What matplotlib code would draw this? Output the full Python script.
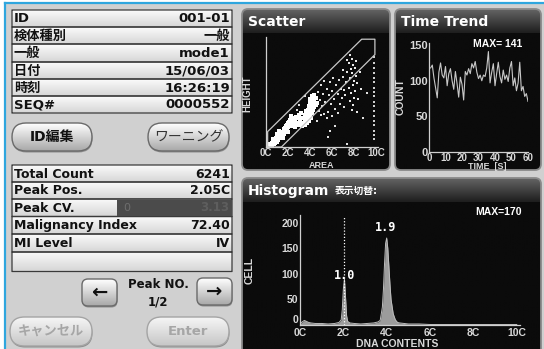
import numpy as np
import matplotlib
matplotlib.use("Agg")
import matplotlib.pyplot as plt
from matplotlib.patches import FancyBboxPatch, Rectangle
from matplotlib.colors import LinearSegmentedColormap

plt.rcParams['font.family'] = ['DejaVu Sans', 'Noto Sans CJK JP']

W, H = 544, 349

# sample info rows
info_labels = ["ID", "検体種別", "一般", "日付", "時刻", "SEQ#"]
info_values = ["001-01", "一般", "mode1", "15/06/03", "16:26:19", "0000552"]

# result rows
result_labels = ["Total Count", "Peak Pos.", "Peak CV.", "Malignancy Index", "MI Level", ""]
result_values = ["6241", "2.05C", "", "72.40", "IV", ""]

# scatter: AREA (C) vs HEIGHT
scat2c_area = [0.2, 0.3, 0.35, 0.4, 0.5, 0.5, 0.6, 0.7, 0.7, 0.8, 0.8, 0.9, 0.9, 1.0, 1.0,
               1.1, 1.1, 1.2, 1.2, 1.3, 1.3, 1.4, 1.4, 1.5, 1.5, 1.6, 1.6, 1.7, 1.7, 1.8,
               1.8, 1.9, 1.9, 2.0, 2.0, 2.1, 2.1, 2.2, 2.2, 2.3, 2.4, 2.4, 2.5, 2.5, 2.6,
               2.7, 2.8, 2.9, 3.0, 3.1, 3.2, 0.6, 1.0, 1.5, 2.0, 2.3, 2.6, 3.3, 3.0, 1.2]
scat2c_height = [0.1, 0.2, 0.1, 0.3, 0.2, 0.4, 0.3, 0.5, 0.3, 0.6, 0.4, 0.5, 0.8, 0.7, 0.5,
                 0.9, 0.6, 0.8, 1.1, 0.9, 1.2, 1.0, 1.3, 1.1, 1.4, 1.2, 1.6, 1.4, 1.7, 1.5,
                 1.9, 1.6, 2.0, 1.8, 2.2, 1.9, 2.3, 2.0, 2.5, 2.2, 2.4, 1.9, 2.6, 2.1, 2.3,
                 2.7, 2.2, 2.6, 2.9, 2.4, 3.1, 0.7, 1.2, 0.8, 1.4, 2.8, 1.8, 2.6, 2.0, 1.5]
scat4c_area = [3.3, 3.4, 3.5, 3.5, 3.6, 3.6, 3.7, 3.7, 3.8, 3.8, 3.8, 3.9, 3.9, 3.9, 4.0,
               4.0, 4.0, 4.1, 4.1, 4.1, 4.2, 4.2, 4.2, 4.3, 4.3, 4.4, 4.4, 4.5, 4.5, 3.7,
               3.9, 4.0, 4.2, 4.3, 4.6, 3.6, 4.0, 4.1, 3.5, 4.4]
scat4c_height = [1.9, 2.2, 2.0, 2.5, 2.3, 2.8, 2.6, 3.1, 2.9, 3.4, 2.5, 3.2, 3.7, 2.8, 3.5,
                 4.0, 3.0, 3.8, 4.3, 3.3, 4.1, 4.6, 3.6, 4.4, 3.9, 4.7, 4.2, 4.5, 3.8, 2.2,
                 2.4, 2.7, 3.1, 3.4, 4.0, 3.3, 4.4, 2.6, 2.9, 3.6]
scat_mid_area = [4.7, 4.9, 5.0, 5.1, 5.2, 5.3, 5.4, 5.5, 5.6, 5.7, 5.8, 5.9, 6.0, 6.1, 6.2,
                 6.3, 6.4, 6.5, 6.6, 6.7, 6.8, 6.9, 7.0, 5.0, 5.5, 6.0, 4.8, 5.3, 6.5, 7.1,
                 5.8, 4.6, 3.0, 3.5, 2.8, 5.6, 7.4, 6.3, 8.8, 9.2]
scat_mid_height = [5.0, 4.3, 5.6, 3.7, 4.8, 6.0, 4.1, 5.3, 3.2, 4.7, 5.9, 3.9, 5.1, 6.3, 4.4,
                   3.5, 5.6, 4.8, 6.1, 3.9, 5.3, 4.5, 6.4, 2.9, 2.6, 2.8, 3.3, 3.0, 3.1, 3.6,
                   1.5, 2.4, 3.8, 4.6, 3.4, 0.9, 0.3, 1.9, 2.6, 4.9]
scat8c_area = [7.6, 7.8, 7.5, 7.9, 7.7, 8.1, 7.4, 7.8, 8.2, 7.6, 8.0, 7.3, 7.9, 8.3, 7.5,
               8.1, 7.7, 7.2, 8.0, 7.6, 8.4, 7.9, 7.4, 8.2, 7.0, 8.5, 7.1, 8.6, 7.8, 8.3]
scat8c_height = [8.4, 8.0, 7.6, 7.5, 7.1, 7.2, 6.8, 6.7, 6.5, 6.3, 6.0, 5.9, 5.6, 5.8, 5.4,
                 5.1, 4.9, 4.7, 4.5, 4.2, 4.4, 3.8, 7.9, 7.8, 7.0, 6.8, 5.2, 5.3, 3.4, 3.2]
scat_edge_area = [9.85, 9.85, 9.85, 9.85, 9.85, 9.85, 9.85, 9.85, 9.85, 9.85, 9.85, 9.85,
                  9.85, 9.85, 9.85, 9.85, 9.85, 9.85]
scat_edge_height = [0.7, 1.1, 1.5, 2.0, 2.4, 2.8, 3.3, 3.7, 4.1, 4.6, 5.0, 5.4, 5.9, 6.3,
                    6.7, 7.2, 7.6, 8.2]
gate_area = [0.15, 0.15, 8.7, 9.9, 9.9, 1.4, 0.15]
gate_height = [0.0, 1.4, 9.8, 9.8, 8.4, 0.0, 0.0]

# time trend (counts per second)
trend_count = [118, 122, 104, 90, 76, 112, 125, 108, 104, 120,
               93, 110, 117, 100, 88, 113, 96, 77, 105, 95,
               73, 113, 108, 117, 110, 124, 118, 127, 112, 103,
               108, 100, 108, 106, 118, 141, 97, 112, 124, 93,
               110, 126, 106, 97, 115, 102, 108, 99, 118, 127,
               93, 104, 86, 97, 126, 86, 92, 78, 82, 71]
trend_time = np.arange(1, len(trend_count) + 1)

# DNA histogram outline
hist_x = [0.0, 0.1, 0.2, 0.3, 0.4, 0.5, 0.7, 1.0, 1.3, 1.6, 1.8, 1.9, 1.95, 2.0, 2.05,
          2.1, 2.15, 2.2, 2.3, 2.5, 2.8, 3.1, 3.4, 3.6, 3.7, 3.8, 3.85, 3.9, 3.95, 4.0,
          4.05, 4.1, 4.15, 4.2, 4.3, 4.4, 4.5, 4.6, 4.8, 5.0, 5.5, 6.0, 7.0, 8.0, 9.0, 10.0]
hist_y = [2, 6, 9, 7, 5, 4, 3, 3, 2, 3, 5, 10, 30, 70, 90,
          55, 18, 7, 4, 3, 2, 3, 4, 6, 9, 35, 70, 120, 160, 170,
          150, 115, 80, 50, 22, 10, 5, 4, 3, 2, 2, 1, 1, 1, 1, 1]
peak_pos = [2.05, 3.95]
peak_index = ["1.0", "1.9"]

fig = plt.figure(figsize=(W / 100, H / 100), dpi=100)
fig.patch.set_facecolor('white')
ax0 = fig.add_axes([0, 0, 1, 1])
ax0.axis('off')


def grad_fill(x, y, w, h, c0, c1, clip, z):
    cmap = LinearSegmentedColormap.from_list('g', [c0, c1])
    im = ax0.imshow(np.linspace(0, 1, 64).reshape(-1, 1), cmap=cmap,
                    extent=(x, x + w, y + h, y), aspect='auto',
                    interpolation='bilinear', zorder=z)
    im.set_clip_path(clip)


def rbox(x, y, w, h, r, c0, c1, ec, lw=1.0, z=2):
    p = FancyBboxPatch((x, y), w, h, boxstyle=f"round,pad=0,rounding_size={r}",
                       fc='none', ec=ec, lw=lw, zorder=z + 0.5)
    ax0.add_patch(p)
    grad_fill(x, y, w, h, c0, c1, p, z)
    return p


def button(x, y, w, h, text, r=None, enabled=True, size=10, weight='bold', tcolor='#111111'):
    r = h / 2 if r is None else r
    ax0.add_patch(FancyBboxPatch((x + 0.5, y + 1.5), w, h, boxstyle=f"round,pad=0,rounding_size={r}",
                                 fc='#8e8e8e', ec='none', zorder=1.5))
    if enabled:
        rbox(x, y, w, h, r, '#ffffff', '#a8a8a8', '#6a6a6a', 1.0, z=2)
    else:
        rbox(x, y, w, h, r, '#f6f6f6', '#c6c6c6', '#a4a4a4', 1.0, z=2)
        tcolor = '#a6a6a6'
    ax0.text(x + w / 2, y + h / 2, text, ha='center', va='center', fontsize=size,
             fontweight=weight, color=tcolor, zorder=10)


# page background and blue frame
ax0.add_patch(Rectangle((6, 4), W - 6, H - 4, fc='#d0d0d0', ec='none', zorder=0.5))
ax0.plot([5, 5], [3, H], color='#2fa6de', lw=1.6, zorder=1)
ax0.plot([5, W], [3, 3], color='#2fa6de', lw=1.6, zorder=1)

# info rows
info_edges = [10, 27, 44, 62, 79, 96, 113]
for i, (lab, val) in enumerate(zip(info_labels, info_values)):
    y0, y1 = info_edges[i], info_edges[i + 1]
    rbox(12, y0, 220, y1 - y0, 0.01, '#fbfbfb', '#d6d6d6', '#3a3a3a', 0.9, z=2)
    yc = (y0 + y1) / 2 + 0.5
    ax0.text(14, yc, lab, ha='left', va='center', fontsize=9.5, fontweight='bold', color='#111111', zorder=10)
    ax0.text(230, yc, val, ha='right', va='center', fontsize=9.5, fontweight='bold', color='#111111', zorder=10)

button(12, 123, 80, 28, "ID編集", size=10)
button(148, 123, 81, 28, "ワーニング", size=10, weight='normal', tcolor='#333333')

# result rows
result_edges = [165, 182, 199, 216.5, 234, 252, 271.5]
for i, (lab, val) in enumerate(zip(result_labels, result_values)):
    y0, y1 = result_edges[i], result_edges[i + 1]
    rbox(12, y0, 220, y1 - y0, 0.01, '#fbfbfb', '#d6d6d6', '#3a3a3a', 0.9, z=2)
    yc = (y0 + y1) / 2 + 0.5
    ax0.text(14, yc, lab, ha='left', va='center', fontsize=9, fontweight='bold', color='#111111', zorder=10)
    ax0.text(230, yc, val, ha='right', va='center', fontsize=9, fontweight='bold', color='#111111', zorder=10)

# Peak CV value bar (dimmed)
cv_y0, cv_y1 = result_edges[2], result_edges[3]
ax0.add_patch(Rectangle((117, cv_y0 + 1), 115, cv_y1 - cv_y0 - 2, fc='#4b4b4b', ec='none', zorder=3))
ax0.text(127, (cv_y0 + cv_y1) / 2, "0", ha='center', va='center', fontsize=8, color='#6e6e6e', zorder=10)
ax0.text(229, (cv_y0 + cv_y1) / 2, "3.13", ha='right', va='center', fontsize=8.5,
         fontweight='bold', color='#5e5e5e', zorder=10)

# peak selector
button(82, 279, 35, 27, "←", r=6, size=14)
button(197, 278, 35, 27, "→", r=6, size=14)
ax0.text(158, 285, "Peak NO.", ha='center', va='center', fontsize=8.5, fontweight='bold', color='#111111', zorder=10)
ax0.text(158, 302, "1/2", ha='center', va='center', fontsize=8.5, fontweight='bold', color='#111111', zorder=10)

button(10, 317, 82, 29, "キャンセル", enabled=False, size=9.5)
button(147, 317, 82, 29, "Enter", enabled=False, size=9.5)


def panel(x, y, w, h, title, sub=None):
    p = rbox(x, y, w, h, 6, '#0b0b0b', '#0b0b0b', '#8a8a8a', 1.3, z=2)
    grad_fill(x, y, w, 24, '#646464', '#1e1e1e', p, 2.2)
    t = ax0.text(x + 6, y + 12.5, title, ha='left', va='center', fontsize=10, fontweight='bold',
                 color='white', zorder=10)
    if sub:
        ax0.annotate(sub, xy=(1, 0.5), xycoords=t, xytext=(4, 0), textcoords='offset points',
                     ha='left', va='center', fontsize=7, fontweight='bold', color='white', zorder=10)


panel(242, 9, 148, 161, "Scatter")
panel(395, 9, 146, 161, "Time Trend")
panel(242, 178, 299, 178, "Histogram", "表示切替:")

ax0.set_xlim(0, W)
ax0.set_ylim(H, 0)

LBL = '#d8d8d8'
TICK_FONT = dict(fontfamily=['Liberation Sans', 'DejaVu Sans'], fontweight='bold')


def px_axes(x0, y0, x1, y1):
    ax = fig.add_axes([x0 / W, 1 - y1 / H, (x1 - x0) / W, (y1 - y0) / H])
    ax.set_facecolor('none')
    for s in ['top', 'right']:
        ax.spines[s].set_visible(False)
    for s in ['left', 'bottom']:
        ax.spines[s].set_color('#cfcfcf')
        ax.spines[s].set_linewidth(0.9)
    ax.tick_params(colors=LBL, length=0, pad=1)
    return ax


# scatter
ax1 = px_axes(266, 37, 378.2, 147)
ax1.set_xlim(0, 10.2)
ax1.set_ylim(0, 10)
ax1.plot(gate_area, gate_height, color='#c8c8c8', lw=0.9)
ax1.scatter(scat2c_area, scat2c_height, s=8, marker='s', color='white', lw=0)
ax1.scatter(scat4c_area, scat4c_height, s=8, marker='s', color='white', lw=0)
ax1.scatter(scat_mid_area, scat_mid_height, s=2.2, marker='s', color='#e0e0e0', lw=0)
ax1.scatter(scat8c_area, scat8c_height, s=2.8, marker='s', color='#e8e8e8', lw=0)
ax1.scatter(scat_edge_area, scat_edge_height, s=1.4, marker='s', color='#cfcfcf', lw=0)
ax1.set_xticks([0, 2, 4, 6, 8, 10], ["0C", "2C", "4C", "6C", "8C", "10C"], fontsize=7, **TICK_FONT)
ax1.set_yticks([])
ax0.text(322, 165, "AREA", ha='center', va='center', fontsize=6.5, color=LBL, zorder=10, **TICK_FONT)
ax0.text(247, 94, "HEIGHT", ha='center', va='center', rotation=90, fontsize=7, color=LBL,
         zorder=10, **TICK_FONT)

# time trend
ax2 = px_axes(429, 43, 528, 152)
ax2.set_xlim(0, 60)
ax2.set_ylim(0, 153)
ax2.plot(trend_time, trend_count, color='#c8c8c8', lw=0.8)
ax2.set_xticks([0, 10, 20, 30, 40, 50, 60], ["0", "10", "20", "30", "40", "50", "60"], fontsize=7, **TICK_FONT)
ax2.set_yticks([0, 50, 100, 150], ["0", "50", "100", "150"], fontsize=8, **TICK_FONT)
ax0.text(498, 44, f"MAX= {max(trend_count)}", ha='center', va='center', fontsize=7.5,
         color='white', zorder=10, **TICK_FONT)
ax0.text(487, 166.5, "TIME  [S]", ha='center', va='center', fontsize=6.5, color=LBL, zorder=10, **TICK_FONT)
ax0.text(401, 97, "COUNT", ha='center', va='center', rotation=90, fontsize=7.5, color=LBL,
         zorder=10, **TICK_FONT)

# histogram
ax3 = px_axes(300, 215, 520, 325)
ax3.set_xlim(0, 10.15)
ax3.set_ylim(0, 215)
ax3.fill_between(hist_x, hist_y, color='#9c9c9c', lw=0)
ax3.plot(hist_x, hist_y, color='#bdbdbd', lw=0.7)
ax3.plot([peak_pos[0], peak_pos[0]], [0, 212], color='white', lw=0.9, ls=(0, (1, 1.5)))
for xp, lab, yp in zip(peak_pos, peak_index, [96, 190]):
    ax3.text(xp, yp, lab, ha='center', va='center', fontsize=8.5, color='white',
             fontfamily='DejaVu Sans Mono', fontweight='bold')
ax3.set_xticks([0, 2, 4, 6, 8, 10], ["0C", "2C", "4C", "6C", "8C", "10C"], fontsize=7.5, **TICK_FONT)
ax3.tick_params(axis='x', pad=2.5)
ax3.set_yticks([0, 50, 100, 150, 200], ["0", "50", "100", "150", "200"], fontsize=7.5, **TICK_FONT)
ax3.get_yticklabels()[0].set_va('bottom')
ax0.text(498, 212, f"MAX={max(hist_y)}", ha='center', va='center', fontsize=7.5,
         color='white', zorder=10, **TICK_FONT)
ax0.text(397, 344, "DNA CONTENTS", ha='center', va='center', fontsize=7.5, color=LBL, zorder=10, **TICK_FONT)
ax0.text(250, 270, "CELL", ha='center', va='center', rotation=90, fontsize=7.5, color=LBL,
         zorder=10, **TICK_FONT)

fig.savefig("out.png", dpi=100, facecolor=fig.get_facecolor())
